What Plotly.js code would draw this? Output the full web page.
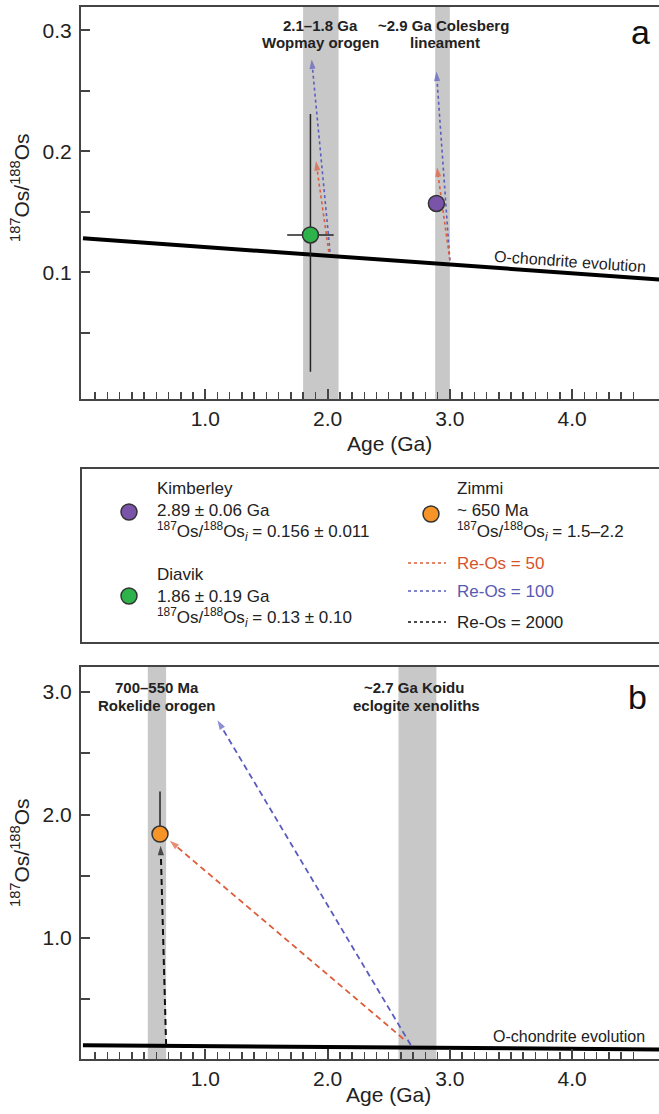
<!DOCTYPE html>
<html><head><meta charset="utf-8">
<script src="https://cdn.plot.ly/plotly-3.0.1.min.js"></script>
<style>html,body{margin:0;padding:0;background:#fff}</style>
</head><body><div id="chart" style="width:659px;height:1114px"></div>
<script>
// ---------- data ----------
const chondriteAge = [0, 4.72];
const chondriteRatio = [0.1283, 0.0941];

const kimberleyAge = [2.89], kimberleyRatio = [0.157];
const diavikAge = [1.86], diavikRatio = [0.131];
const diavikAgeErr = [0.19], diavikRatioErrPlus = [0.10], diavikRatioErrMinus = [0.113];
const zimmiAge = [0.63], zimmiRatio = [1.845], zimmiErrPlus = [0.345], zimmiErrMinus = [0];

// Re-Os model growth lines (start on/near chondrite, end at arrow tip)
const wopRe50Age = [2.01, 1.905], wopRe50Ratio = [0.117, 0.192];
const wopRe100Age = [2.02, 1.87], wopRe100Ratio = [0.117, 0.276];
const colRe50Age = [3.0, 2.895], colRe50Ratio = [0.110, 0.187];
const colRe100Age = [3.0, 2.89], colRe100Ratio = [0.110, 0.266];
const zimRe50Age = [2.62, 0.71], zimRe50Ratio = [0.18, 1.79];
const zimRe100Age = [2.68, 1.10], zimRe100Ratio = [0.13, 2.77];
const zimRe2000Age = [0.68, 0.635], zimRe2000Ratio = [0.13, 1.75];

// event bands (Ga)
const bandTopStart = [1.80, 2.88], bandTopEnd = [2.09, 3.00];
const bandTopLabels = [['2.1–1.8 Ga', 'Wopmay orogen'], ['~2.9 Ga Colesberg', 'lineament']];
const bandBotStart = [0.53, 2.58], bandBotEnd = [0.68, 2.89];
const bandBotLabels = [['700–550 Ma', 'Rokelide orogen'], ['~2.7 Ga Koidu', 'eclogite xenoliths']];

// ticks
const xTickVals = [1, 2, 3, 4], xTickText = ['1.0', '2.0', '3.0', '4.0'];
const yTopTickVals = [0.1, 0.2, 0.3], yTopTickText = ['0.1', '0.2', '0.3'];
const yTopMinor = [0.05, 0.15, 0.25];
const yBotTickVals = [1, 2, 3], yBotTickText = ['1.0', '2.0', '3.0'];
const yBotMinor = [0.5, 1.5, 2.5];
const xMinor = [];
for (let i = 1; i <= 45; i++) { if (i % 10 !== 0) xMinor.push(i / 10); }

// ---------- styling ----------
const W = 659, H = 1114;
const PX = x => x / W;
const PY = y => 1 - y / H;
const FONT = 'Liberation Sans, Arial, Helvetica, sans-serif';
const AX = '#444';
const RED = 'rgb(222,92,58)', BLUE = 'rgb(92,92,190)';
const PURPLE = 'rgb(122,84,168)', GREEN = 'rgb(46,178,74)', ORANGE = 'rgb(246,148,40)';
const BAND = 'rgb(200,200,200)';

function arrowTrace(xs, ys, color, xa, ya, dash, w) {
  return {
    x: xs, y: ys, xaxis: xa, yaxis: ya, type: 'scatter', mode: 'lines+markers',
    line: { color: color, width: w, dash: dash },
    marker: { symbol: ['circle', 'arrow'], size: [0, 10], angleref: 'previous', color: color, line: { width: 0 } },
    hoverinfo: 'skip'
  };
}

const traces = [
  // top panel
  { x: chondriteAge, y: chondriteRatio, xaxis: 'x', yaxis: 'y', type: 'scatter', mode: 'lines',
    line: { color: '#000', width: 4 } },
  arrowTrace(wopRe100Age, wopRe100Ratio, BLUE, 'x', 'y', '3px,3px', 1.6),
  arrowTrace(wopRe50Age, wopRe50Ratio, RED, 'x', 'y', '3px,3px', 1.6),
  arrowTrace(colRe100Age, colRe100Ratio, BLUE, 'x', 'y', '3px,3px', 1.6),
  arrowTrace(colRe50Age, colRe50Ratio, RED, 'x', 'y', '3px,3px', 1.6),
  { x: diavikAge, y: diavikRatio, xaxis: 'x', yaxis: 'y', type: 'scatter', mode: 'markers',
    marker: { size: 16, color: GREEN, line: { color: '#333', width: 1.5 } },
    error_x: { type: 'data', array: diavikAgeErr, color: '#222', thickness: 1.5, width: 0 },
    error_y: { type: 'data', symmetric: false, array: diavikRatioErrPlus, arrayminus: diavikRatioErrMinus, color: '#222', thickness: 1.5, width: 0 } },
  { x: kimberleyAge, y: kimberleyRatio, xaxis: 'x', yaxis: 'y', type: 'scatter', mode: 'markers',
    marker: { size: 16, color: PURPLE, line: { color: '#333', width: 1.5 } } },
  // bottom panel
  { x: chondriteAge, y: chondriteRatio, xaxis: 'x2', yaxis: 'y2', type: 'scatter', mode: 'lines',
    line: { color: '#000', width: 4 } },
  arrowTrace(zimRe100Age, zimRe100Ratio, BLUE, 'x2', 'y2', '6px,4px', 1.8),
  arrowTrace(zimRe50Age, zimRe50Ratio, RED, 'x2', 'y2', '6px,4px', 1.8),
  { x: zimmiAge, y: zimmiRatio, xaxis: 'x2', yaxis: 'y2', type: 'scatter', mode: 'markers',
    marker: { size: 16, color: ORANGE, line: { color: '#333', width: 1.5 } },
    error_y: { type: 'data', symmetric: false, array: zimmiErrPlus, arrayminus: zimmiErrMinus, color: '#222', thickness: 1.5, width: 0 } },
  arrowTrace(zimRe2000Age, zimRe2000Ratio, '#111', 'x2', 'y2', '6px,4px', 2),
];

function xAxis(anchor) {
  return {
    anchor: anchor, domain: [PX(81), 1], range: [-0.016, 4.71],
    tickmode: 'array', tickvals: xTickVals, ticktext: xTickText,
    ticks: 'inside', ticklen: 10, tickwidth: 2, tickcolor: AX,
    minor: { tickmode: 'array', tickvals: xMinor, ticks: 'inside', ticklen: 7, tickwidth: 1.5, tickcolor: AX, showgrid: false },
    showline: true, linecolor: AX, linewidth: 2, mirror: true,
    showgrid: false, zeroline: false, ticklabelstandoff: 0,
    tickfont: { family: FONT, size: 21, color: '#222' }
  };
}
function yAxis(anchor, dom, range, tv, tt, mv) {
  return {
    anchor: anchor, domain: dom, range: range,
    tickmode: 'array', tickvals: tv, ticktext: tt,
    ticks: 'inside', ticklen: 9, tickwidth: 2, tickcolor: AX,
    minor: { tickmode: 'array', tickvals: mv, ticks: 'inside', ticklen: 9, tickwidth: 2, tickcolor: AX, showgrid: false },
    showline: true, linecolor: AX, linewidth: 2, mirror: false,
    showgrid: false, zeroline: false, ticklabelstandoff: 3,
    tickfont: { family: FONT, size: 21, color: '#222' }
  };
}

const shapes = [];
bandTopStart.forEach((s, i) => shapes.push({ type: 'rect', xref: 'x', yref: 'y domain', x0: s, x1: bandTopEnd[i], y0: 0, y1: 1,
  fillcolor: BAND, line: { width: 0 }, layer: 'below' }));
bandBotStart.forEach((s, i) => shapes.push({ type: 'rect', xref: 'x2', yref: 'y2 domain', x0: s, x1: bandBotEnd[i], y0: 0, y1: 1,
  fillcolor: BAND, line: { width: 0 }, layer: 'below' }));
// legend box
shapes.push({ type: 'rect', xref: 'paper', yref: 'paper', x0: PX(81), x1: 1.01, y0: PY(643), y1: PY(468),
  line: { color: AX, width: 2 }, fillcolor: 'rgba(0,0,0,0)' });
// legend markers
const legendMarkers = [[129, 512, PURPLE], [129, 596, GREEN], [431, 514, ORANGE]];
legendMarkers.forEach(m => shapes.push({ type: 'circle', xref: 'paper', yref: 'paper',
  xsizemode: 'pixel', ysizemode: 'pixel', xanchor: PX(m[0]), yanchor: PY(m[1]),
  x0: -8, x1: 8, y0: -8, y1: 8, fillcolor: m[2], line: { color: '#333', width: 1.5 } }));
// legend dashed lines
const legendLines = [[563, RED], [591, BLUE], [622, '#111']];
legendLines.forEach(l => shapes.push({ type: 'line', xref: 'paper', yref: 'paper',
  x0: PX(408), x1: PX(446), y0: PY(l[0]), y1: PY(l[0]), line: { color: l[1], width: 1.6, dash: '3px,3px' } }));

const ann = [];
function A(text, x, y, size, opts) {
  ann.push(Object.assign({ text: text, xref: 'paper', yref: 'paper', x: PX(x), y: PY(y),
    showarrow: false, xanchor: 'center', yanchor: 'middle',
    font: { family: FONT, size: size, color: '#222' } }, opts || {}));
}
const BOLD = { font: { family: FONT, size: 15, color: '#222', weight: 'bold' } };
A(bandTopLabels[0][0], 320, 25, 15, BOLD); A(bandTopLabels[0][1], 320, 42, 15, BOLD);
A(bandTopLabels[1][0], 443, 25, 15, BOLD); A(bandTopLabels[1][1], 445, 42, 15, BOLD);
A(bandBotLabels[0][0], 157, 687, 15, BOLD); A(bandBotLabels[0][1], 157, 705, 15, BOLD);
A(bandBotLabels[1][0], 414, 687, 15, BOLD); A(bandBotLabels[1][1], 416, 705, 15, BOLD);
A('a', 640, 32, 34, { font: { family: FONT, size: 34, color: '#111' } });
A('b', 637, 697, 34, { font: { family: FONT, size: 34, color: '#111' } });
A('O-chondrite evolution', 570, 262, 16, { textangle: 4 });
A('O-chondrite evolution', 569, 1036, 16);
A('Age (Ga)', 389, 443, 21);
A('Age (Ga)', 388, 1094, 21);
A('<sup>187</sup>Os/<sup>188</sup>Os', 20, 188, 21, { textangle: -90 });
A('<sup>187</sup>Os/<sup>188</sup>Os', 20, 853, 21, { textangle: -90 });

const LF = 17;
const L = { xanchor: 'left' };
A('Kimberley', 155, 488, LF, L);
A('2.89 ± 0.06 Ga', 155, 510, LF, L);
A('<sup>187</sup>Os/<sup>188</sup>Os<sub><i>i</i></sub> = 0.156 ± 0.011', 155, 531, LF, L);
A('Diavik', 155, 574, LF, L);
A('1.86 ± 0.19 Ga', 155, 596, LF, L);
A('<sup>187</sup>Os/<sup>188</sup>Os<sub><i>i</i></sub> = 0.13 ± 0.10', 155, 617, LF, L);
A('Zimmi', 455, 489, LF, L);
A('~ 650 Ma', 455, 510, LF, L);
A('<sup>187</sup>Os/<sup>188</sup>Os<sub><i>i</i></sub> = 1.5–2.2', 455, 531, LF, L);
A('Re-Os = 50', 455, 563, LF, { xanchor: 'left', font: { family: FONT, size: LF, color: 'rgb(214,84,44)' } });
A('Re-Os = 100', 455, 591, LF, { xanchor: 'left', font: { family: FONT, size: LF, color: 'rgb(88,90,178)' } });
A('Re-Os = 2000', 455, 622, LF, L);

const layout = {
  width: W, height: H, margin: { l: 0, r: 0, t: 0, b: 0 },
  paper_bgcolor: '#fff', plot_bgcolor: '#fff', showlegend: false,
  xaxis: xAxis('y'),
  yaxis: yAxis('x', [PY(399), PY(7)], [-0.0045, 0.3193], yTopTickVals, yTopTickText, yTopMinor),
  xaxis2: xAxis('y2'),
  yaxis2: yAxis('x2', [PY(1059), PY(667)], [0.016, 3.203], yBotTickVals, yBotTickText, yBotMinor),
  shapes: shapes, annotations: ann
};

Plotly.newPlot('chart', traces, layout, { staticPlot: true, displayModeBar: false });
</script></body></html>
